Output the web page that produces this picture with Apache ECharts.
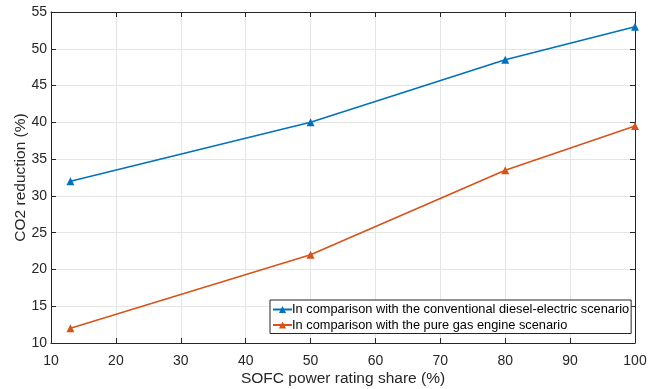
<!DOCTYPE html>
<html><head><meta charset="utf-8">
<script src="https://cdn.jsdelivr.net/npm/echarts@6/dist/echarts.min.js"></script>
<style>html,body{margin:0;padding:0;background:#fff}#c{width:660px;height:389px}</style>
</head><body><div id="c"></div>
<script>
const xValues = [13, 50, 80, 100];
const seriesNames = ['In comparison with the conventional diesel-electric scenario', 'In comparison with the pure gas engine scenario'];
const dieselValues = [32, 40, 48.5, 53];
const gasValues = [12, 22, 33.5, 39.5];
const xTitle = 'SOFC power rating share (%)';
const yTitle = 'CO2 reduction (%)';

const FONT = '"Liberation Sans", Arial, sans-serif';
const axisCol = '#262626';
const chart = echarts.init(document.getElementById('c'));
const mk = (vals) => xValues.map((x, i) => [x, vals[i]]);
const boxAxis = {
  axisLine: {show: true, onZero: false, lineStyle: {color: axisCol, width: 1}},
  axisTick: {show: true, inside: true, length: 5, lineStyle: {color: axisCol}},
  axisLabel: {show: false}, splitLine: {show: false}
};
chart.setOption({
  animation: false,
  textStyle: {fontFamily: FONT},
  grid: {left: 51, right: 25, top: 12, bottom: 46, containLabel: false, outerBoundsMode: 'none'},
  xAxis: [{
    type: 'value', min: 10, max: 100, interval: 10,
    name: xTitle, nameLocation: 'middle', nameGap: 28, nameMoveOverlap: false,
    nameTextStyle: {fontSize: 15.5, color: axisCol, fontFamily: FONT},
    axisLine: {show: true, onZero: false, lineStyle: {color: axisCol}},
    axisTick: {show: true, inside: true, length: 5, lineStyle: {color: axisCol}},
    axisLabel: {fontSize: 14, color: axisCol, margin: 11, fontFamily: FONT},
    splitLine: {show: true, lineStyle: {color: '#e5e5e5', width: 1}}
  }, Object.assign({}, boxAxis, {type: 'value', position: 'top', min: 10, max: 100, interval: 10})],
  yAxis: [{
    type: 'value', min: 10, max: 55, interval: 5,
    name: yTitle, nameLocation: 'middle', nameGap: 22, nameRotate: 90, nameMoveOverlap: false,
    nameTextStyle: {fontSize: 15.5, color: axisCol, fontFamily: FONT},
    axisLine: {show: true, onZero: false, lineStyle: {color: axisCol}},
    axisTick: {show: true, inside: true, length: 5, lineStyle: {color: axisCol}},
    axisLabel: {fontSize: 14, color: axisCol, margin: 4, fontFamily: FONT},
    splitLine: {show: true, lineStyle: {color: '#e5e5e5', width: 1}}
  }, Object.assign({}, boxAxis, {type: 'value', position: 'right', min: 10, max: 55, interval: 5})],
  legend: {
    left: 270, top: 300, orient: 'vertical', itemGap: 2.5,
    itemWidth: 19, itemHeight: 9,
    padding: [3, 2, 2, 2],
    borderColor: axisCol, borderWidth: 1, backgroundColor: '#fff',
    textStyle: {fontSize: 12.8, color: '#000', fontFamily: FONT, padding: [0, 0, 0, -5]},
    data: seriesNames
  },
  series: [
    {name: seriesNames[0], type: 'line', data: mk(dieselValues), color: '#0072BD',
     symbol: 'triangle', symbolSize: 8, lineStyle: {width: 1.6}, itemStyle: {color: '#0072BD'}},
    {name: seriesNames[1], type: 'line', data: mk(gasValues), color: '#D95319',
     symbol: 'triangle', symbolSize: 8, lineStyle: {width: 1.6}, itemStyle: {color: '#D95319'}}
  ]
});
</script></body></html>
